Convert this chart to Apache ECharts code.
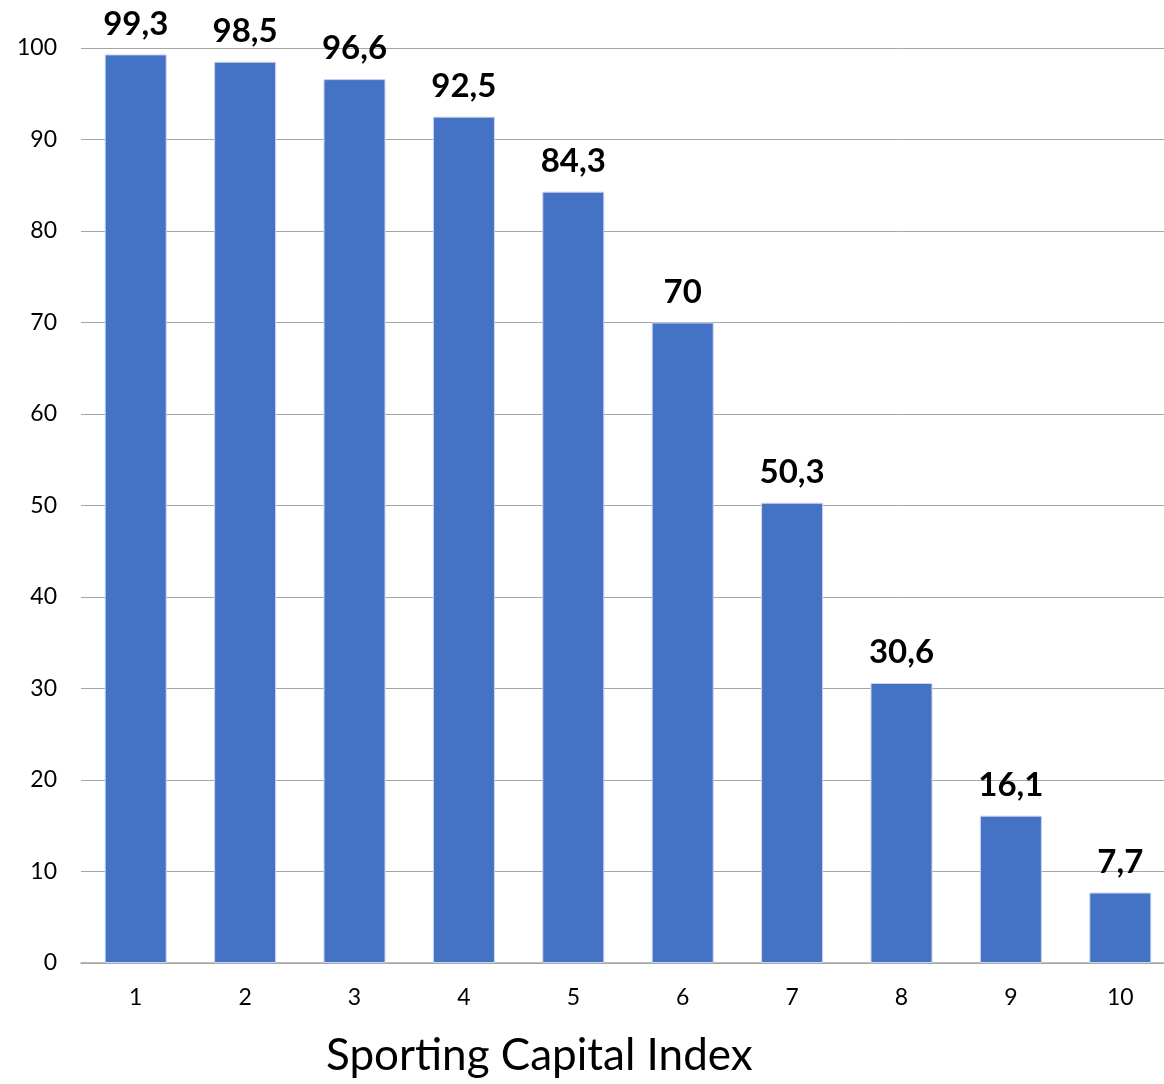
<!DOCTYPE html>
<html>
<head>
<meta charset="utf-8">
<script src="https://cdn.jsdelivr.net/npm/echarts@6/dist/echarts.min.js"></script>
<style>
html,body{margin:0;padding:0;background:#fff;overflow:hidden;}
/* plot area runs slightly past the right edge of the window */
#chart{width:1175px;height:1084px;}
</style>
</head>
<body>
<div id="chart"></div>
<script>
// Sporting Capital Index deciles and their values
const categories = ['1', '2', '3', '4', '5', '6', '7', '8', '9', '10'];
const values = [99.3, 98.5, 96.6, 92.5, 84.3, 70, 50.3, 30.6, 16.1, 7.7];
const axisTitle = 'Sporting Capital Index';

const FONT = 'Lato, "Open Sans", sans-serif';

const chart = echarts.init(document.getElementById('chart'));
chart.setOption({
  animation: false,
  title: {
    text: axisTitle,
    left: 321,
    top: 1029,
    textStyle: { fontFamily: FONT, fontSize: 44, fontWeight: 'normal', color: '#000' }
  },
  grid: { left: 81, right: 0, top: 48, bottom: 121 },
  xAxis: {
    type: 'category',
    data: categories,
    axisTick: { show: false },
    axisLine: { lineStyle: { color: '#a6a6a6', width: 1.5 } },
    axisLabel: { fontFamily: FONT, fontSize: 23, color: '#000', margin: 23 }
  },
  yAxis: {
    type: 'value',
    min: 0,
    max: 100,
    interval: 10,
    axisLine: { show: false },
    axisTick: { show: false },
    splitLine: { lineStyle: { color: '#a6a6a6', width: 1 } },
    axisLabel: { fontFamily: FONT, fontSize: 23, color: '#000', margin: 24 }
  },
  series: [{
    type: 'bar',
    data: values,
    barWidth: 62,
    itemStyle: { color: '#4472C4', borderColor: '#c9d6ee', borderWidth: 1 },
    label: {
      show: true,
      position: 'top',
      distance: 14,
      fontFamily: FONT,
      fontSize: 33,
      fontWeight: 'bold',
      color: '#000',
      formatter: p => String(p.value).replace('.', ',')
    }
  }]
});
</script>
</body>
</html>
